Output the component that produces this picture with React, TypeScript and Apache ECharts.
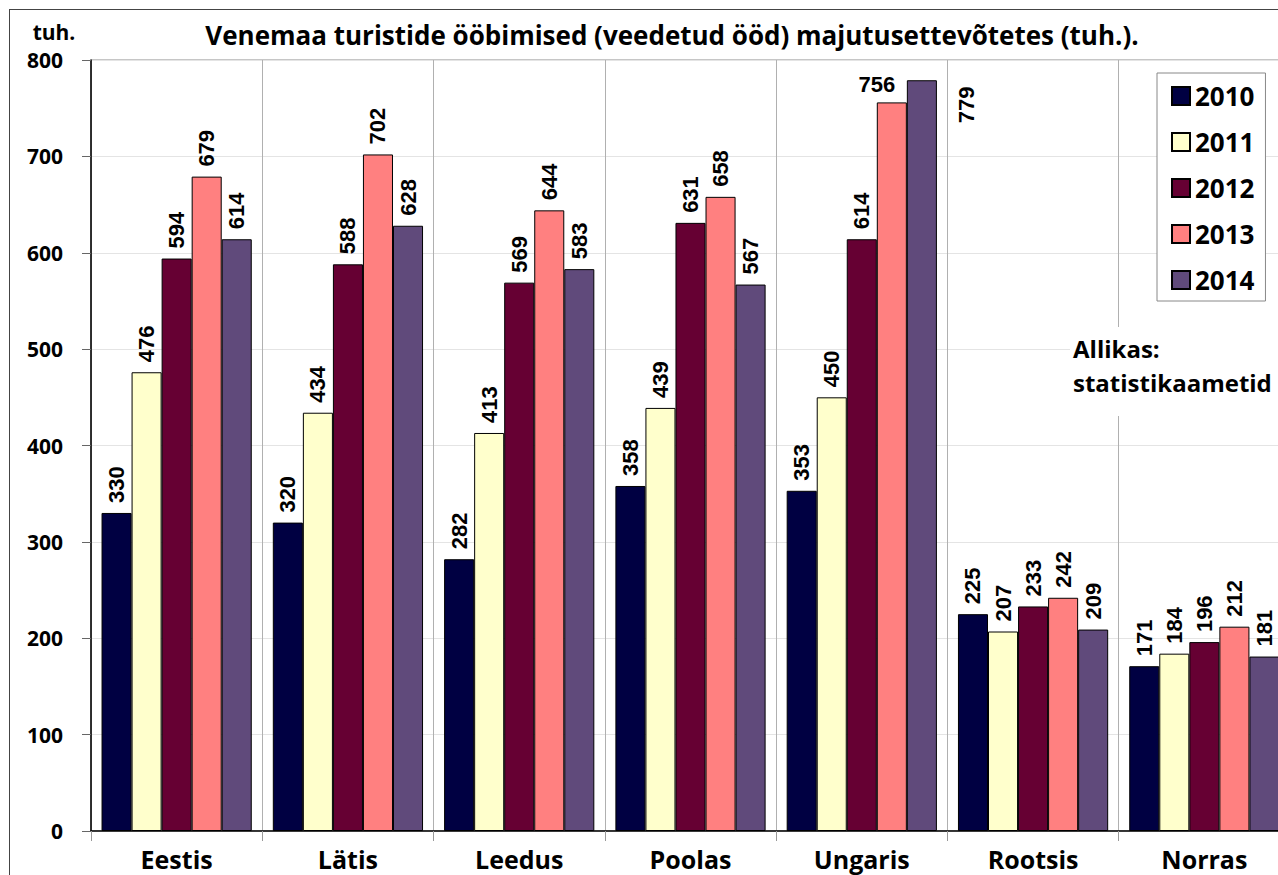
import React, { useEffect, useRef } from "react";
import * as echarts from "echarts";

const categories = ["Eestis", "Lätis", "Leedus", "Poolas", "Ungaris", "Rootsis", "Norras"];
const years = ["2010", "2011", "2012", "2013", "2014"];
const v2010 = [330, 320, 282, 358, 353, 225, 171];
const v2011 = [476, 434, 413, 439, 450, 207, 184];
const v2012 = [594, 588, 569, 631, 614, 233, 196];
const v2013 = [679, 702, 644, 658, 756, 242, 212];
const v2014 = [614, 628, 583, 567, 779, 209, 181];
const yTicks = { min: 0, max: 800, interval: 100 };
const titleText = "Venemaa turistide ööbimised (veedetud ööd) majutusettevõtetes (tuh.).";
const unitText = "tuh.";
const sourceLines = ["Allikas:", "statistikaametid"];

const colors = ["#000042", "#FFFFCC", "#660033", "#FF8080", "#604A7B"];
const FONT = "'Open Sans', Lato, sans-serif";
const LABEL_FONT = "'Liberation Sans', Arial, sans-serif";

export default function App() {
  const ref = useRef<HTMLDivElement>(null);
  useEffect(() => {
    if (!ref.current) return;
    const chart = echarts.init(ref.current, null, { renderer: "svg" });
    const allValues = [v2010, v2011, v2012, v2013, v2014];
    const series = allValues.map((vals, si) => ({
      name: years[si],
      type: "bar",
      barGap: "0%",
      barCategoryGap: "12.3%",
      itemStyle: { color: colors[si], borderColor: "#000", borderWidth: 1 },
      label: {
        show: true,
        position: "top",
        rotate: 90,
        align: "left",
        verticalAlign: "middle",
        distance: 10,
        fontFamily: LABEL_FONT,
        fontWeight: "bold",
        fontSize: 22,
        color: "#000",
      },
      data: vals.map((v, ci) => {
        if (si === 3 && ci === 4) {
          return {
            value: v,
            label: { rotate: 0, align: "center", verticalAlign: "bottom", distance: 7, offset: [-15, 0] },
          };
        }
        if (si === 4 && ci === 4) {
          return { value: v, label: { offset: [-53, 45] } };
        }
        return v;
      }),
    }));

    chart.setOption({
      animation: false,
      backgroundColor: "#fff",
      grid: {
        left: 81,
        top: 50,
        right: 20,
        bottom: 44,
        show: true,
        borderColor: "#8c8c8c",
        borderWidth: 1,
        containLabel: false,
      },
      legend: {
        orient: "vertical",
        left: 1147,
        top: 63,
        width: 111,
        padding: [10, 11, 8, 14],
        itemWidth: 18,
        itemHeight: 18,
        itemGap: 20,
        backgroundColor: "#fff",
        borderColor: "#888",
        borderWidth: 1,
        icon: "rect",
        selectedMode: false,
        textStyle: { fontFamily: FONT, fontWeight: "bold", fontSize: 26, lineHeight: 25, color: "#000" },
        data: years,
      },
      xAxis: {
        type: "category",
        data: categories,
        axisLine: { show: true, lineStyle: { color: "#000", width: 1.5 } },
        axisTick: { show: true, length: 10, lineStyle: { color: "#999" } },
        splitLine: { show: true, lineStyle: { color: "#b0b0b0", width: 1 } },
        axisLabel: { fontFamily: FONT, fontWeight: "bold", fontSize: 25, color: "#000", margin: 15 },
      },
      yAxis: {
        type: "value",
        min: yTicks.min,
        max: yTicks.max,
        interval: yTicks.interval,
        axisLine: { show: true, lineStyle: { color: "#000", width: 1.5 } },
        axisTick: { show: true, length: 9, lineStyle: { color: "#666" } },
        splitLine: { show: true, lineStyle: { color: "#e4e4e4", width: 1 } },
        axisLabel: { fontFamily: FONT, fontWeight: "bold", fontSize: 21, color: "#000", margin: 28 },
      },
      graphic: [
        {
          type: "text",
          x: 662,
          y: 25,
          style: { text: titleText, fontFamily: FONT, fontWeight: "bold", fontSize: 26, fill: "#000", textAlign: "center", textVerticalAlign: "middle" },
        },
        {
          type: "text",
          x: 44,
          y: 22,
          style: { text: unitText, fontFamily: FONT, fontWeight: "bold", fontSize: 21, fill: "#000", textAlign: "center", textVerticalAlign: "middle" },
        },
        {
          type: "rect",
          shape: { x: 1060, y: 317, width: 240, height: 89 },
          style: { fill: "#fff" },
          z: 50,
        },
        {
          type: "text",
          x: 1063,
          y: 338,
          z: 51,
          style: { text: sourceLines[0], fontFamily: FONT, fontWeight: "bold", fontSize: 24, fill: "#000", textAlign: "left", textVerticalAlign: "middle" },
        },
        {
          type: "text",
          x: 1063,
          y: 372,
          z: 51,
          style: { text: sourceLines[1], fontFamily: FONT, fontWeight: "bold", fontSize: 24, fill: "#000", textAlign: "left", textVerticalAlign: "middle" },
        },
      ],
      series,
    });
    return () => chart.dispose();
  }, []);

  return (
    <div
      style={{
        position: "absolute",
        left: 9,
        top: 9,
        width: 1269,
        height: 866,
        overflow: "hidden",
        borderLeft: "1px solid #444",
        borderTop: "1px solid #444",
        background: "#fff",
      }}
    >
      <div ref={ref} style={{ width: 1300, height: 865 }} />
    </div>
  );
}
